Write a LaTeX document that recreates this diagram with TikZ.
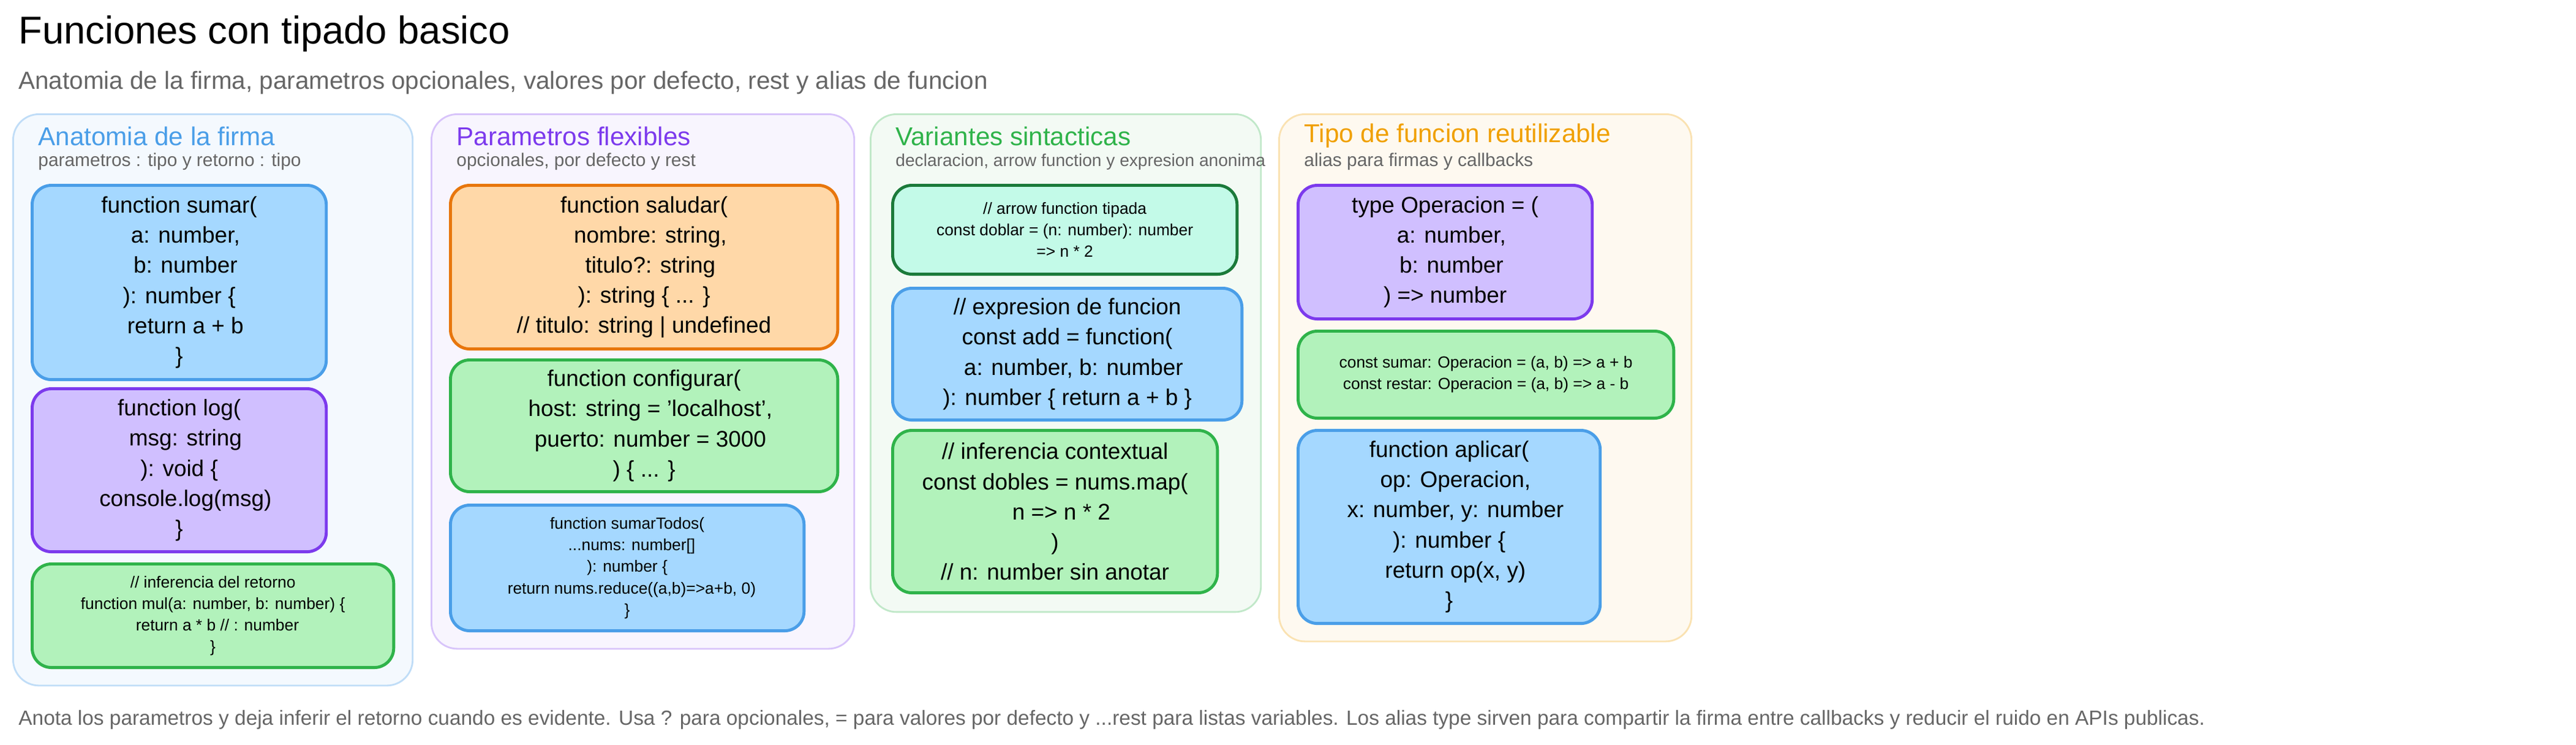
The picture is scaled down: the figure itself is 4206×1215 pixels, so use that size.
\documentclass[tikz,border=0pt]{standalone}
\usepackage{fontspec}
\setmainfont{Liberation Sans}
\usetikzlibrary{positioning}
\definecolor{cBlue}{HTML}{A5D8FF}\definecolor{dBlue}{HTML}{4A9EE8}
\definecolor{cViol}{HTML}{D0BFFF}\definecolor{dViol}{HTML}{7C3AED}
\definecolor{cGreen}{HTML}{B2F2BB}\definecolor{dGreen}{HTML}{2FB34A}
\definecolor{cMint}{HTML}{C3FAE8}\definecolor{dMint}{HTML}{1B7A3A}
\definecolor{cOrange}{HTML}{FFD8A8}\definecolor{dOrange}{HTML}{E8760C}
\definecolor{tGray}{HTML}{666666}\definecolor{tOrange}{HTML}{F0A000}
\tikzset{
panel/.style={rectangle,draw,rounded corners=12pt,line width=0.8pt,anchor=north west,inner sep=0pt},
ptitle/.style={anchor=west,font=\fontsize{12}{14}\selectfont},
psub/.style={anchor=west,text=tGray,font=\fontsize{8.5}{10}\selectfont},
code/.style={rectangle,draw,rounded corners=9pt,line width=1.4pt,anchor=north west,align=center,inner sep=0pt,font=\fontsize{10.5}{14}\selectfont},
small/.style={code,font=\fontsize{7.5}{10}\selectfont},
}
\begin{document}
\begin{tikzpicture}[x=0.01cm,y=-0.01cm]
\useasboundingbox (0,0) rectangle (4206,1215);
\node at (18,55) [anchor=west,font=\fontsize{18}{22}\selectfont] (title) {Funciones con tipado basico};
\node at (18,135) [anchor=west,text=tGray,font=\fontsize{11.5}{14}\selectfont] (subtitle) {Anatomia de la firma, parametros opcionales, valores por defecto, rest y alias de funcion};
%
\node at (20,185) [panel,draw=dBlue!35,fill=dBlue!6,minimum width=6.52cm,minimum height=9.32cm] (p1) {};
\node at (50,222) [ptitle,text=dBlue] (p1t) {Anatomia de la firma};
\node at (50,264) [psub] (p1s) {parametros : tipo y retorno : tipo};
\node at (50,300) [code,draw=dBlue,fill=cBlue,minimum width=4.80cm,minimum height=3.17cm] (sumar) {function sumar(\\\ \ a: number,\\\ \ b: number\\): number \{\\\ \ return a + b\\\}};
\node at (50,632) [code,draw=dViol,fill=cViol,minimum width=4.80cm,minimum height=2.66cm] (log) {function log(\\\ \ msg: string\\): void \{\\\ \ console.log(msg)\\\}};
\node at (50,918) [small,draw=dGreen,fill=cGreen,minimum width=5.90cm,minimum height=1.69cm] (mul) {// inferencia del retorno\\function mul(a: number, b: number) \{\\\ \ return a * b // : number\\\}};
%
\node at (703,185) [panel,draw=dViol!30,fill=dViol!5,minimum width=6.90cm,minimum height=8.72cm] (p2) {};
\node at (733,222) [ptitle,text=dViol] (p2t) {Parametros flexibles};
\node at (733,264) [psub] (p2s) {opcionales, por defecto y rest};
\node at (733,300) [code,draw=dOrange,fill=cOrange,minimum width=6.32cm,minimum height=2.67cm] (saludar) {function saludar(\\\ \ nombre: string,\\\ \ titulo?: string\\): string \{ ... \}\\// titulo: string | undefined};
\node at (733,585) [code,draw=dGreen,fill=cGreen,minimum width=6.32cm,minimum height=2.15cm] (configurar) {function configurar(\\\ \ host: string = 'localhost',\\\ \ puerto: number = 3000\\) \{ ... \}};
\node at (733,822) [small,draw=dBlue,fill=cBlue,minimum width=5.77cm,minimum height=2.05cm] (sumarTodos) {function sumarTodos(\\\ \ ...nums: number[]\\): number \{\\\ \ return nums.reduce((a,b)=>a+b, 0)\\\}};
%
\node at (1420,185) [panel,draw=dGreen!30,fill=dGreen!6,minimum width=6.37cm,minimum height=8.12cm] (p3) {};
\node at (1450,222) [ptitle,text=dGreen] (p3t) {Variantes sintacticas};
\node at (1450,264) [psub,font=\fontsize{8}{10}\selectfont] (p3s) {declaracion, arrow function y expresion anonima};
\node at (1455,300) [small,draw=dMint,fill=cMint,minimum width=5.62cm,minimum height=1.45cm] (doblar) {// arrow function tipada\\const doblar = (n: number): number\\=> n * 2};
\node at (1455,468) [code,draw=dBlue,fill=cBlue,minimum width=5.70cm,minimum height=2.15cm] (add) {// expresion de funcion\\const add = function(\\\ \ a: number, b: number\\): number \{ return a + b \}};
\node at (1455,700) [code,draw=dGreen,fill=cGreen,minimum width=5.30cm,minimum height=2.65cm] (dobles) {// inferencia contextual\\const dobles = nums.map(\\\ \ n => n * 2\\)\\// n: number sin anotar};
%
\node at (2087,185) [panel,draw=tOrange!30,fill=tOrange!6,minimum width=6.73cm,minimum height=8.60cm] (p4) {};
\node at (2117,222) [ptitle,text=tOrange] (p4t) {Tipo de funcion reutilizable};
\node at (2117,264) [psub] (p4s) {alias para firmas y callbacks};
\node at (2117,300) [code,draw=dViol,fill=cViol,minimum width=4.80cm,minimum height=2.18cm] (operacion) {type Operacion = (\\\ \ a: number,\\\ \ b: number\\) => number};
\node at (2117,538) [small,draw=dGreen,fill=cGreen,minimum width=6.13cm,minimum height=1.42cm] (alias) {const sumar: Operacion = (a, b) => a + b\\const restar: Operacion = (a, b) => a - b};
\node at (2117,700) [code,draw=dBlue,fill=cBlue,minimum width=4.93cm,minimum height=3.15cm] (aplicar) {function aplicar(\\\ \ op: Operacion,\\\ \ x: number, y: number\\): number \{\\\ \ return op(x, y)\\\}};
%
\node at (18,1175) [anchor=west,text=tGray,font=\fontsize{9.5}{12}\selectfont] (footer) {Anota los parametros y deja inferir el retorno cuando es evidente. Usa ? para opcionales, = para valores por defecto y ...rest para listas variables. Los alias type sirven para compartir la firma entre callbacks y reducir el ruido en APIs publicas.};
\end{tikzpicture}
\end{document}
